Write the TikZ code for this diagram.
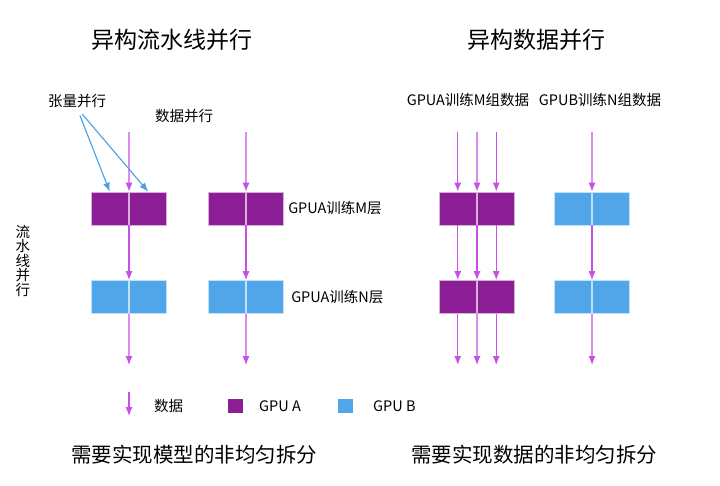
\documentclass[tikz,border=0pt]{standalone}
\usepackage{fontspec}
\setmainfont{Noto Sans CJK SC}
\usetikzlibrary{positioning,calc,arrows.meta}
\definecolor{gpua}{RGB}{140,30,150}
\definecolor{gpub}{RGB}{80,166,232}
\definecolor{flow}{RGB}{200,80,230}
\definecolor{split}{RGB}{74,160,230}
\tikzstyle{every node}=[inner sep=0pt]
\tikzstyle{txt}=[font=\fontsize{14.5}{14.5}\selectfont]
\tikzstyle{headtxt}=[font=\fontsize{23}{23}\selectfont]
\tikzstyle{foottxt}=[font=\fontsize{20.5}{20.5}\selectfont]
\tikzstyle{cell}=[minimum width=37pt,minimum height=33pt,inner sep=0pt,line width=0.6pt]
\tikzstyle{arrow} = [line width=1.2pt,flow,-{Latex[length=9pt,width=7pt]}]
\tikzstyle{tarrow} = [line width=1.1pt,split,-{Latex[length=9pt,width=7pt]}]

\begin{document}
\begin{tikzpicture}[x=1pt,y=-1pt]
\useasboundingbox (0,0) rectangle (720,485);
\fill[white] (0,0) rectangle (720,485);

\node[headtxt] (hpipe) at (172,40) {异构流水线并行};
\node[headtxt] (hdata) at (536,40) {异构数据并行};
\node[txt] (tensor) at (77,101) {张量并行};
\node[txt] (dpar) at (184,116) {数据并行};
\node[txt,align=center] (pipe) at (23,261) {流\\水\\线\\并\\行};
\node[txt] (mdata) at (468,100) {GPUA训练M组数据};
\node[txt] (ndata) at (600,100) {GPUB训练N组数据};

\foreach \c/\n/\ca/\cb in {129/pa/gpua/gpub,246/pb/gpua/gpub,477/da/gpua/gpua,592/db/gpub/gpub}
{\node[cell,fill=\ca,draw=\ca!35!white] (\n1l) at (\c-19.25,208.5) {};
\node[cell,fill=\ca,draw=\ca!35!white] (\n1r) at (\c+19.25,208.5) {};
\node[cell,fill=\cb,draw=\cb!35!white] (\n2l) at (\c-19.25,297) {};
\node[cell,fill=\cb,draw=\cb!35!white] (\n2r) at (\c+19.25,297) {};
\coordinate (\n-top) at (\c,132);
\coordinate (\n-end) at (\c,365);
\draw[arrow] (\n-top) -- ($(\n1l.north east)!.5!(\n1r.north west)$);
\draw[arrow] ($(\n1l.south east)!.5!(\n1r.south west)$) -- ($(\n2l.north east)!.5!(\n2r.north west)$);
\draw[arrow] ($(\n2l.south east)!.5!(\n2r.south west)$) -- (\n-end);
}
\foreach \s in {l,r}
{\draw[arrow] (da1\s.north |- da-top) -- (da1\s.north);
\draw[arrow] (da1\s.south) -- (da2\s.north);
\draw[arrow] (da2\s.south) -- (da2\s.south |- da-end);
}

\draw[tarrow,shorten <=8pt] (tensor.south) -- (pa1l.north);
\draw[tarrow,shorten <=8pt] (tensor.south) -- (pa1r.north);

\node[txt,right=4pt of pb1r] (mlayer) {GPUA训练M层};
\node[txt,right=7pt of pb2r] (nlayer) {GPUA训练N层};

\coordinate (keytop) at (129,392);
\coordinate (keyend) at (129,416);
\draw[arrow] (keytop) -- (keyend);
\node[txt] (keyflow) at (168.5,406) {数据};
\node[minimum width=15pt,minimum height=14pt,fill=gpua] (keya) at (235,406) {};
\node[txt,anchor=west] (keyatxt) at (259,406) {GPU A};
\node[minimum width=15pt,minimum height=14pt,fill=gpub] (keyb) at (345.5,406) {};
\node[txt,anchor=west] (keybtxt) at (373,406) {GPU B};

\node[foottxt] (fpipe) at (194,455) {需要实现模型的非均匀拆分};
\node[foottxt] (fdata) at (534,455) {需要实现数据的非均匀拆分};
\end{tikzpicture}
\end{document}
